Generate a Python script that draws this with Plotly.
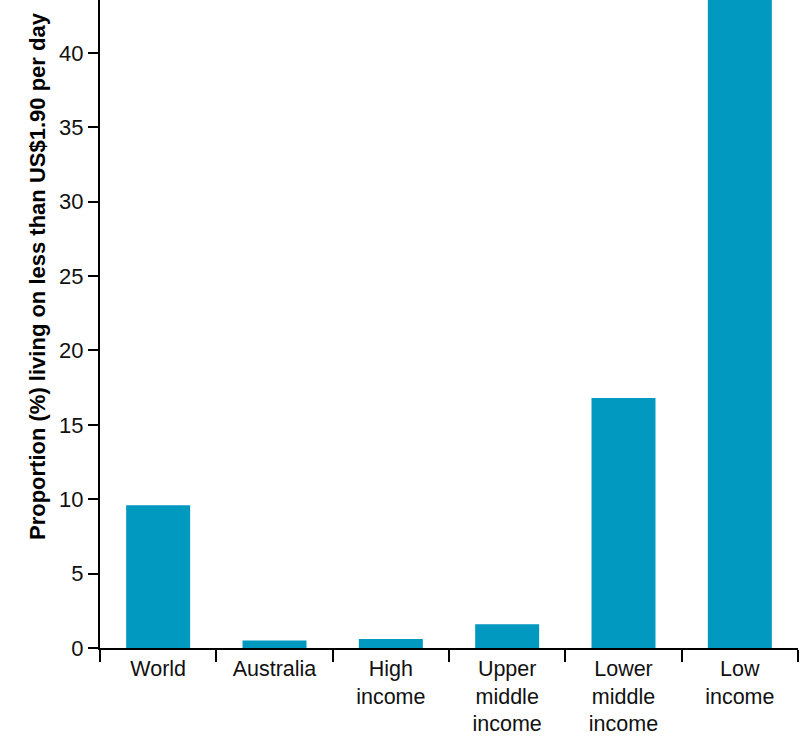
import plotly.graph_objects as go

categories = ["World", "Australia", "High<br>income", "Upper<br>middle<br>income", "Lower<br>middle<br>income", "Low<br>income"]
values = [9.6, 0.5, 0.6, 1.6, 16.8, 44.6]
y_ticks = [0, 5, 10, 15, 20, 25, 30, 35, 40]

BAR = "#0199BF"
FONT = "Liberation Sans, Arial, Helvetica, sans-serif"

fig = go.Figure(go.Bar(x=categories, y=values, marker_color=BAR, marker_line_width=0))

fig.update_layout(
    width=808, height=747,
    margin=dict(l=100, r=10, t=0, b=99),
    paper_bgcolor="white", plot_bgcolor="white",
    bargap=0.45,
    showlegend=False,
    font=dict(family=FONT, size=21, color="black"),
)
fig.update_xaxes(
    type="category",
    showline=True, linecolor="black", linewidth=1.5,
    ticks="outside", tickson="boundaries", ticklen=12, tickwidth=2, tickcolor="black",
    tickfont=dict(size=21.5, color="#111111"),
    showgrid=False, zeroline=False,
)
fig.update_yaxes(
    range=[0, 43.56],
    tickvals=y_ticks,
    showline=True, linecolor="black", linewidth=2,
    ticks="outside", ticklen=10, tickwidth=1.5, tickcolor="black",
    tickfont=dict(size=22, color="#111111"),
    showgrid=False, zeroline=False,
)
fig.add_annotation(
    text="<b>Proportion (%) living on less than US$1.90 per day</b>",
    textangle=-90, showarrow=False,
    xref="paper", yref="paper",
    x=(37 - 100) / 698, y=(648 - 276) / 648,
    xanchor="center", yanchor="middle",
    font=dict(family=FONT, size=22, color="black"),
)

fig.write_html("out.html")
